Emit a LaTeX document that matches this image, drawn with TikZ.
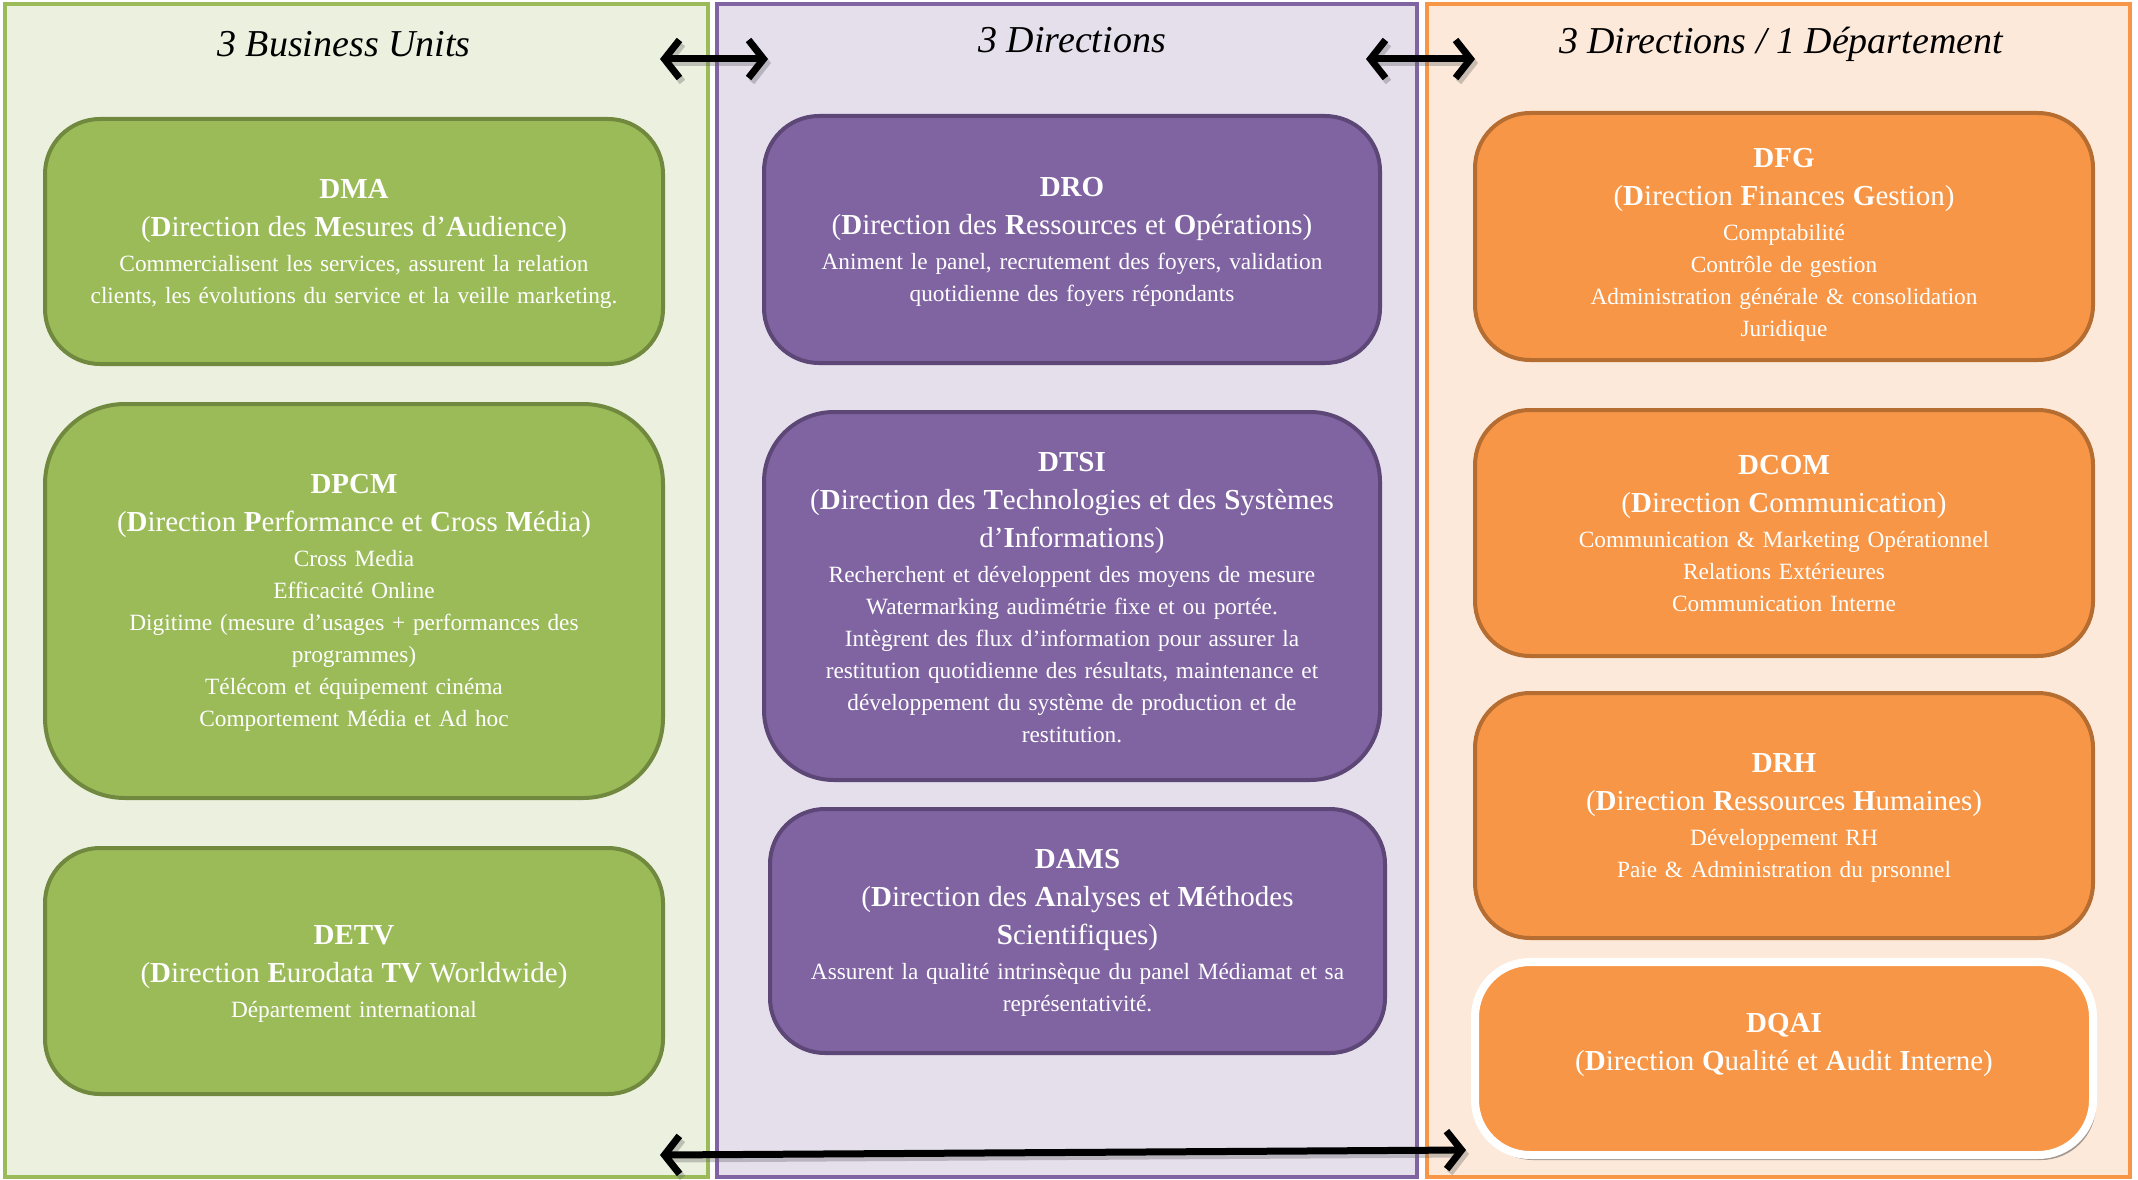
\documentclass[tikz,border=0pt]{standalone}
\usepackage{fontspec}
\setmainfont{Liberation Serif}
\usetikzlibrary{arrows.meta,shadows}
\definecolor{gfill}{HTML}{9BBB59}
\definecolor{gdraw}{HTML}{71893F}
\definecolor{gbg}{HTML}{EBF1DE}
\definecolor{pfill}{HTML}{8064A2}
\definecolor{pdraw}{HTML}{5C4776}
\definecolor{pbg}{HTML}{E5DFEC}
\definecolor{ofill}{HTML}{F79646}
\definecolor{odraw}{HTML}{B66D31}
\definecolor{obg}{HTML}{FDE9D9}
\newcommand\tsz{\fontsize{29}{38}\selectfont}
\newcommand\bsz{\fontsize{23.3}{32}\selectfont}
\newcommand\hsz{\fontsize{38}{42}\selectfont}
\newcommand\topx[1]{\rule{0pt}{\dimexpr 19.2pt+#1\relax}}
\tikzset{
  boxbase/.style={rounded corners=55pt, line width=4pt, text=white, align=center,
    text width=610pt, inner sep=0pt, font=\bsz},
  gbox/.style={boxbase, fill=gfill, draw=gdraw},
  pbox/.style={boxbase, fill=pfill, draw=pdraw},
  obox/.style={boxbase, fill=ofill, draw=odraw},
  panelbase/.style={line width=4pt, inner sep=0pt, minimum height=1173pt},
  gpanel/.style={panelbase, fill=gbg, draw=gfill},
  ppanel/.style={panelbase, fill=pbg, draw=pfill},
  opanel/.style={panelbase, fill=obg, draw=ofill},
  head/.style={font=\hsz\itshape, text=black, inner sep=0pt},
  dbl/.style={line width=7pt, black,
    {Straight Barb[length=15pt,width=38pt]}-{Straight Barb[length=15pt,width=38pt]}},
  dblshadow/.style={dbl, black!60, opacity=0.35}
}
\begin{document}
\begin{tikzpicture}[x=1pt,y=-1pt]
\useasboundingbox (0,0) rectangle (2138,1180);
% panels
\node[gpanel, minimum width=703pt] (pg) at (356.5,590.5) {};
\node[ppanel, minimum width=700pt] (pp) at (1067,590.5) {};
\node[opanel, minimum width=703pt] (po) at (1778.5,590.5) {};
% headers
\node[head] (hg) at (344,44) {3 Business Units};
\node[head] (hp) at (1072,40) {3 Directions};
\node[head] (ho) at (1781,44) {3 Directions / 1 Département};
% arrows
\coordinate (a1l) at (660,59);
\coordinate (a1r) at (768,59);
\coordinate (a2l) at (1366,59);
\coordinate (a2r) at (1475,59);
\coordinate (a3l) at (660,1155);
\coordinate (a3r) at (1466,1150);
\begin{scope}[transform canvas={shift={(3pt,-4pt)}}]
\draw[dblshadow] (a1l) -- (a1r);
\draw[dblshadow] (a2l) -- (a2r);
\draw[dblshadow] (a3l) -- (a3r);
\end{scope}
\draw[dbl] (a1l) -- (a1r);
\draw[dbl] (a2l) -- (a2r);
\draw[dbl] (a3l) -- (a3r);
% green boxes
\node[gbox, minimum width=618pt, minimum height=245pt] (dma) at (354,241.5) {%
{\tsz\bfseries\topx{4.4pt}DMA}\\[6pt]
{\tsz (\textbf{D}irection des \textbf{M}esures d’\textbf{A}udience)}\\[3pt]
Commercialisent les services, assurent la relation\\
clients, les évolutions du service et la veille marketing.};
\node[gbox, rounded corners=80pt, minimum width=618pt, minimum height=394pt] (dpcm) at (354,601) {%
{\tsz\bfseries\topx{3pt}DPCM}\\[6pt]
{\tsz (\textbf{D}irection \textbf{P}erformance et \textbf{C}ross \textbf{M}édia)}\\[3pt]
Cross Media\\
Efficacité Online\\
Digitime (mesure d’usages + performances des\\
programmes)\\
Télécom et équipement cinéma\\
Comportement Média et Ad hoc};
\node[gbox, minimum width=618pt, minimum height=246pt] (detv) at (354,971) {%
{\tsz\bfseries\topx{5.4pt}DETV}\\[6pt]
{\tsz (\textbf{D}irection \textbf{E}urodata \textbf{TV} Worldwide)}\\[3pt]
Département international};
% purple boxes
\node[pbox, minimum width=616pt, minimum height=247pt] (dro) at (1072,239.5) {%
{\tsz\bfseries\topx{4.4pt}DRO}\\[6pt]
{\tsz (\textbf{D}irection des \textbf{R}essources et \textbf{O}pérations)}\\[3pt]
Animent le panel, recrutement des foyers, validation\\
quotidienne des foyers répondants};
\node[pbox, rounded corners=70pt, minimum width=616pt, minimum height=368pt] (dtsi) at (1072,596) {%
{\tsz\bfseries\topx{3pt}DTSI}\\[6pt]
{\tsz (\textbf{D}irection des \textbf{T}echnologies et des \textbf{S}ystèmes}\\[6pt]
{\tsz d’\textbf{I}nformations)}\\[3pt]
Recherchent et développent des moyens de mesure\\
Watermarking audimétrie fixe et ou portée.\\
Intègrent des flux d’information pour assurer la\\
restitution quotidienne des résultats, maintenance et\\
développement du système de production et de\\
restitution.};
\node[pbox, minimum width=615pt, minimum height=244pt] (dams) at (1077.5,931) {%
{\tsz\bfseries\topx{4.4pt}DAMS}\\[6pt]
{\tsz (\textbf{D}irection des \textbf{A}nalyses et \textbf{M}éthodes}\\[6pt]
{\tsz \textbf{S}cientifiques)}\\[3pt]
Assurent la qualité intrinsèque du panel Médiamat et sa\\
représentativité.};
% orange boxes
\node[obox, minimum width=618pt, minimum height=247pt] (dfg) at (1784,236.5) {%
{\tsz\bfseries\topx{16pt}DFG}\\[6pt]
{\tsz (\textbf{D}irection \textbf{F}inances \textbf{G}estion)}\\[3pt]
Comptabilité\\
Contrôle de gestion\\
Administration générale \& consolidation\\
Juridique};
\node[obox, minimum width=618pt, minimum height=246pt] (dcom) at (1784,533) {%
{\tsz\bfseries\topx{1pt}DCOM}\\[6pt]
{\tsz (\textbf{D}irection \textbf{C}ommunication)}\\[3pt]
Communication \& Marketing Opérationnel\\
Relations Extérieures\\
Communication Interne};
\node[obox, minimum width=618pt, minimum height=245pt] (drh) at (1784,815.5) {%
{\tsz\bfseries\topx{4.4pt}DRH}\\[6pt]
{\tsz (\textbf{D}irection \textbf{R}essources \textbf{H}umaines)}\\[3pt]
Développement RH\\
Paie \& Administration du prsonnel};
\node[obox, draw=white, line width=8pt, minimum width=618pt, minimum height=193pt,
  drop shadow={shadow xshift=3pt, shadow yshift=-5pt, opacity=0.35, fill=black}] (dqai) at (1784,1058.5) {%
{\tsz\bfseries\topx{8pt}DQAI}\\[6pt]
{\tsz (\textbf{D}irection \textbf{Q}ualité et \textbf{A}udit \textbf{I}nterne)}\\
\strut};
\end{tikzpicture}
\end{document}
